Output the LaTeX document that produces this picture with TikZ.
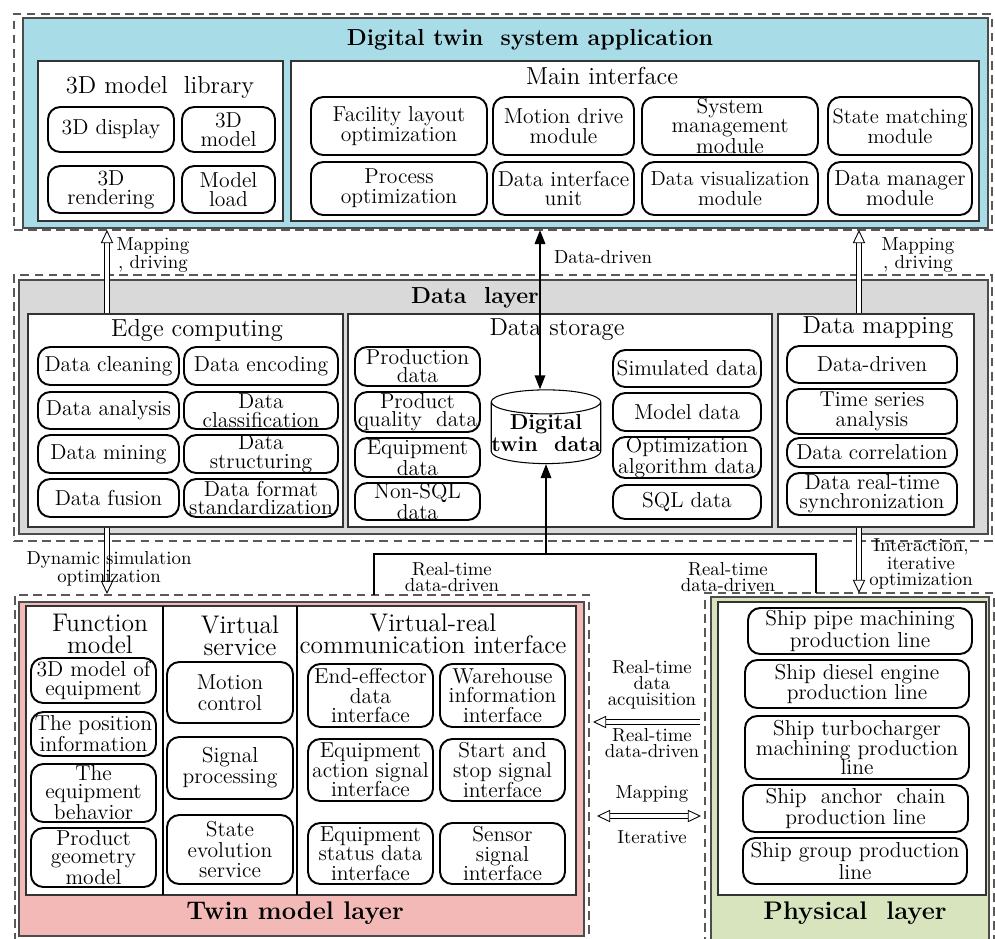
\documentclass[tikz,border=0pt]{standalone}
\usepackage{amsmath}
\usepackage{xcolor}
\usepackage{tikz}
\usetikzlibrary{arrows.meta,positioning,fit,shapes.geometric}

\definecolor{appblue}{RGB}{168,220,231}
\definecolor{datagray}{RGB}{217,217,217}
\definecolor{twinpink}{RGB}{242,185,182}
\definecolor{physgreen}{RGB}{215,228,190}

\tikzset{wh/.style 2 args={minimum width=#1*0.02cm, minimum height=#2*0.02cm}}
\newcommand{\fs}[1]{\fontsize{12.3}{#1}\selectfont}

\begin{document}
\begin{tikzpicture}[x=0.02cm, y=-0.02cm]
\tikzstyle{every node} = [font=\fs{11.2}, inner sep=0pt, align=center]
\tikzstyle{dashbox} = [draw=black!65, dash pattern=on 5pt off 3pt, line width=.7pt]
\tikzstyle{layer} = [draw=black!70, line width=.8pt]
\tikzstyle{grp} = [draw=black!80, fill=white, line width=.6pt]
\tikzstyle{item} = [draw, fill=white, rounded corners=7pt, line width=1.1pt]
\tikzstyle{ttl} = [font=\fontsize{14}{12}\selectfont]
\tikzstyle{colttl} = [font=\fontsize{14.5}{12.8}\selectfont]
\tikzstyle{bigttl} = [font=\fontsize{13.2}{13}\selectfont\bfseries]
\tikzstyle{lbl} = [font=\fontsize{10.7}{9}\selectfont]
\tikzstyle{hollow} = [double=white, double distance=2.4pt, line width=.5pt, -{Triangle[open, length=7.5pt, width=7pt]}]
\tikzstyle{hollowbi} = [double=white, double distance=2.4pt, line width=.5pt, {Triangle[open, length=7.5pt, width=7pt]}-{Triangle[open, length=7.5pt, width=7pt]}]
\tikzstyle{solidtip} = [line width=1pt, -{Triangle[length=8pt, width=6pt]}]
\tikzstyle{solidbi} = [line width=1pt, {Triangle[length=8pt, width=6pt]}-{Triangle[length=8pt, width=6pt]}]
\useasboundingbox (0,0) rectangle (995,938);

% application layer
\node[dashbox, fit={(14,14) (992,230)}] (appdash) {};
\node[layer, fill=appblue, fit={(23,18) (988,228)}] (app) {};
\node[bigttl] (apptitle) at (530,40) {Digital twin~ system application};
\node[grp, fit={(38,61) (283,221)}] (lib) {};
\node[ttl] at (160,87) {3D model~ library};
\node[item, wh={126}{45}] (disp) at (111,129.5) {3D display};
\node[item, wh={93}{45}, font=\fs{10.8}] (mdl) at (228.5,129.5) {3D\\model};
\node[item, wh={126}{47}, font=\fs{10.8}] (rend) at (111,189.5) {3D\\rendering};
\node[item, wh={93}{47}, font=\fs{10.8}] (load) at (228.5,189.5) {Model\\load};
\node[grp, fit={(291,61) (979,221)}] (main) {};
\node[ttl] at (602,76) {Main interface};
\node[item, wh={176}{58}] (fac) at (399,126) {Facility layout\\optimization};
\node[item, wh={176}{53}] (proc) at (399,188.5) {Process\\optimization};
\node[item, wh={141}{58}] (motion) at (563.5,126) {Motion drive\\module};
\node[item, wh={141}{53}] (dint) at (563.5,188.5) {Data interface\\unit};
\node[item, wh={176}{58}, font=\fs{9.4}] (sysm) at (730,126) {System\\management\\module};
\node[item, wh={176}{53}, font=\fontsize{11.6}{11.2}\selectfont] (dvis) at (730,188.5) {Data visualization\\module};
\node[item, wh={144}{58}, font=\fontsize{11.8}{11.2}\selectfont] (state) at (900,126) {State matching\\module};
\node[item, wh={144}{53}] (dman) at (900,188.5) {Data manager\\module};

% data layer
\node[dashbox, fit={(14,275) (992,541)}] (datadash) {};
\node[layer, fill=datagray, fit={(19,280) (988,534)}] (data) {};
\node[bigttl] at (475,298) {Data~ layer};
\node[grp, fit={(28,314) (343,527)}] (edge) {};
\node[ttl] at (197,330) {Edge computing};
\node[item, wh={141}{38}] (clean) at (108.5,366) {Data cleaning};
\node[item, wh={154}{38}] (enc) at (261,366) {Data encoding};
\node[item, wh={141}{37}] (ana) at (108.5,410.5) {Data analysis};
\node[item, wh={154}{37}, font=\fs{10.5}] (cls) at (261,410.5) {Data\\classification};
\node[item, wh={141}{38}] (mine) at (108.5,454) {Data mining};
\node[item, wh={154}{38}, font=\fs{10.5}] (struc) at (261,454) {Data\\structuring};
\node[item, wh={141}{38}] (fus) at (108.5,498) {Data fusion};
\node[item, wh={154}{38}, font=\fs{10.3}] (fmt) at (261,498) {Data format\\standardization};
\node[grp, fit={(348,314) (772,527)}] (store) {};
\node[ttl] at (557,330) {Data storage};
\node[item, wh={125}{39}, font=\fs{10.3}] (prod) at (417.5,366.5) {Production\\data};
\node[item, wh={125}{40}, font=\fs{10.3}] (qual) at (417.5,412) {Product\\quality~ data};
\node[item, wh={125}{39}, font=\fs{10.3}] (equ) at (417.5,457.5) {Equipment\\data};
\node[item, wh={125}{37}, font=\fs{10.3}] (nsql) at (417.5,501.5) {Non-SQL\\data};
\node[cylinder, shape border rotate=90, aspect=.22, draw, fill=white, line width=.6pt,
  minimum width=2.06cm, minimum height=1.32cm, font=\fontsize{12.3}{12.5}\selectfont\bfseries] (dtd) at (546,433) {Digital\\twin~ data};
\node[item, wh={148}{37}] (sim) at (687,368.5) {Simulated data};
\node[item, wh={148}{38}] (mdat) at (687,412) {Model data};
\node[item, wh={148}{41}, font=\fs{10.3}] (opt) at (687,457.5) {Optimization\\algorithm data};
\node[item, wh={148}{34}] (sql) at (687,502) {SQL data};
\node[grp, fit={(778,314) (974,527)}] (dmap) {};
\node[ttl] at (878,328) {Data mapping};
\node[item, wh={170}{37}] (ddrv) at (872,364.5) {Data-driven};
\node[item, wh={170}{45}] (tsa) at (872,411.5) {Time series\\analysis};
\node[item, wh={170}{29}] (corr) at (872,452.5) {Data correlation};
\node[item, wh={170}{42}, font=\fs{10.8}] (sync) at (872,494) {Data real-time\\synchronization};

% twin model layer
\node[dashbox, fit={(15,595) (589,950)}] (twindash) {};
\node[layer, fill=twinpink, fit={(19,602) (584,936)}] (twin) {};
\node[grp, fit={(26,606) (576,895)}] (twinin) {};
\draw[line width=.6pt] (163,606) -- (163,895);
\draw[line width=.6pt] (297,606) -- (297,895);
\node[bigttl, font=\fontsize{14.5}{13}\selectfont\bfseries] at (295,913) {Twin model layer};
\node[colttl] at (100,634) {Function\\model};
\node[colttl] at (240,636) {Virtual\\service};
\node[colttl] at (433,634) {Virtual-real\\communication interface};
\node[item, wh={125}{45}, font=\fs{10.3}] (fm1) at (93.5,680.5) {3D model of\\equipment};
\node[item, wh={125}{44}, font=\fs{10.3}] (fm2) at (93.5,734) {The position\\information};
\node[item, wh={125}{58}, font=\fs{10.3}] (fm3) at (93.5,793) {The\\equipment\\behavior};
\node[item, wh={125}{59}, font=\fs{10.3}] (fm4) at (93.5,857.5) {Product\\geometry\\model};
\node[item, wh={126}{61}, font=\fs{12}] (vs1) at (230,692.5) {Motion\\control};
\node[item, wh={126}{62}, font=\fs{12}] (vs2) at (230,768) {Signal\\processing};
\node[item, wh={126}{69}, font=\fs{11.6}] (vs3) at (230,849.5) {State\\evolution\\service};
\node[item, wh={125}{63}] (vr1) at (370.5,695.5) {End-effector\\data\\interface};
\node[item, wh={125}{63}] (vr2) at (502.5,695.5) {Warehouse\\information\\interface};
\node[item, wh={125}{62}] (vr3) at (370.5,770) {Equipment\\action signal\\interface};
\node[item, wh={125}{62}] (vr4) at (502.5,770) {Start and\\stop signal\\interface};
\node[item, wh={125}{61}] (vr5) at (370.5,853.5) {Equipment\\status data\\interface};
\node[item, wh={125}{61}] (vr6) at (502.5,853.5) {Sensor\\signal\\interface};

% physical layer
\node[dashbox, fit={(705,593) (994,950)}] (physdash) {};
\node[layer, fill=physgreen, fit={(711,597) (989,950)}] (phys) {};
\node[grp, fit={(718,602) (986,895)}] (physin) {};
\node[bigttl, font=\fontsize{14.5}{13}\selectfont\bfseries] at (855,913) {Physical~ layer};
\node[item, wh={224}{46}, font=\fs{10.8}] (pl1) at (860,631) {Ship pipe machining\\production line};
\node[item, wh={224}{48}] (pl2) at (857,684) {Ship diesel engine\\production line};
\node[item, wh={224}{63}] (pl3) at (857,747.5) {Ship turbocharger\\machining production\\line};
\node[item, wh={225}{47}, font=\fs{10.8}] (pl4) at (855.5,808.5) {Ship~ anchor~ chain\\production line};
\node[item, wh={224}{46}, font=\fs{10.3}] (pl5) at (855,861) {Ship group production\\line};

% connectors
\coordinate (mapL) at (107,230);
\coordinate (mapR) at (859,230);
\coordinate (dd) at (540,230);
\coordinate (dynB) at (107,594);
\coordinate (intB) at (859,593);
\coordinate (rtj) at (546,554);
\coordinate (rtL) at (374,595);
\coordinate (rtR) at (816,593);
\coordinate (acqS) at (700,722);
\coordinate (acqT) at (593,722);
\coordinate (mapS) at (597,816);
\coordinate (mapT) at (701,816);
\draw[hollow] (edge.north -| mapL) -- (mapL);
\draw[hollow] (dmap.north -| mapR) -- (mapR);
\draw[hollow] (edge.south -| dynB) -- (dynB);
\draw[hollow] (dmap.south -| intB) -- (intB);
\draw[solidbi] (dd) -- (dtd.north -| dd);
\draw[line width=1pt] (rtL) -- (rtL |- rtj) -- (rtR |- rtj) -- (rtR);
\draw[solidtip] (rtj) -- (dtd.south);
\draw[hollow] (acqS) -- (acqT);
\draw[hollowbi] (mapS) -- (mapT);

\node[lbl] at (153,255) {Mapping\\, driving};
\node[lbl] at (918,255) {Mapping\\, driving};
\node[lbl] at (603,257) {Data-driven};
\node[lbl] at (109,569) {Dynamic simulation\\optimization};
\node[lbl] at (921,564) {Interaction,\\iterative\\optimization};
\node[lbl] at (452,577) {Real-time\\data-driven};
\node[lbl] at (728,577) {Real-time\\data-driven};
\node[lbl] at (652,685) {Real-time\\data\\acquisition};
\node[lbl] at (652,743) {Real-time\\data-driven};
\node[lbl] at (652,794) {Mapping};
\node[lbl] at (652,837) {Iterative};
\end{tikzpicture}
\end{document}
